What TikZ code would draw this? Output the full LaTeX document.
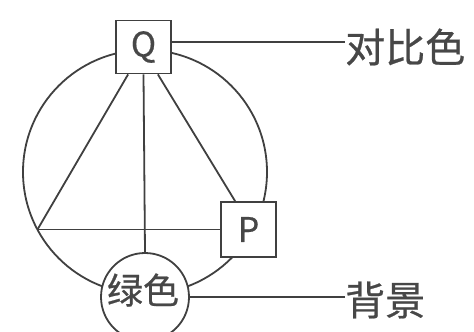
\documentclass[tikz,border=0pt]{standalone}
\usepackage{fontspec}
\setmainfont{Noto Sans CJK SC}
\newfontfamily\cjk[FakeBold=0.6]{Noto Sans CJK SC}
\begin{document}
\begin{tikzpicture}[x=1pt,y=-1pt,
  ln/.style={draw=black!75, line width=1.8pt},
  sq/.style={ln, fill=white, rectangle, minimum width=55pt, minimum height=53pt, inner sep=0pt, font=\cjk\fontsize{34}{34}\selectfont, text=black!72},
  lab/.style={anchor=west, inner sep=0pt, font=\cjk\fontsize{40}{40}\selectfont, text=black!72}]
\useasboundingbox (0,0) rectangle (474,332);
\fill[white] (0,0) rectangle (474,332);
% big circle
\draw[ln] (145,172) circle (122);
\coordinate (L) at (37.5,229.5);
% nodes
\node[sq] (Q) at (143.5,47) {Q};
\node[sq, minimum height=55pt] (P) at (248.5,229.5) {P};
\node[ln, fill=white, circle, minimum size=88pt, inner sep=0pt] (G) at (145,297) {};
\node[inner sep=0pt, font=\cjk\fontsize{36}{36}\selectfont, text=black!72] (GT) at (143,290) {绿色};
\node[lab] (A) at (345,47) {对比色};
\node[lab] (B) at (345,300) {背景};
% connectors
\draw[ln] ([xshift=13pt]Q.south west) -- (L);
\draw[ln] (Q.south) -- (G.north);
\draw[ln] ([xshift=-14pt]Q.south east) -- ([xshift=15pt]P.north west);
\draw[ln] (L) -- (P.west);
\draw[ln] ([yshift=5pt]Q.east) -- ([yshift=5pt]A.west);
\draw[ln] (G.east) -- (G.east -| B.west);
\end{tikzpicture}
\end{document}
